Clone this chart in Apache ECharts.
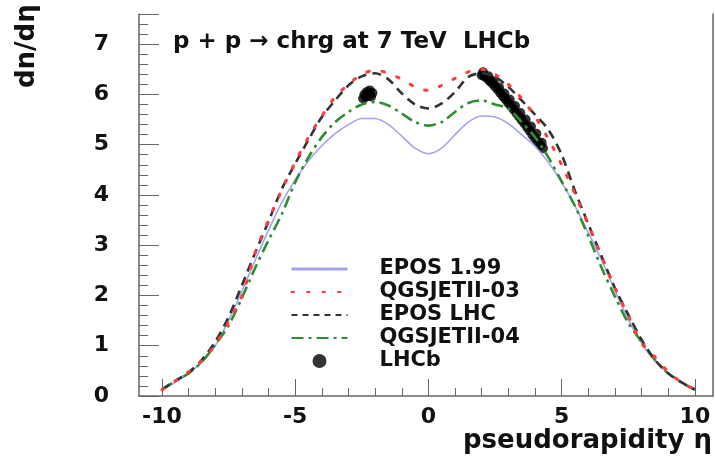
<!DOCTYPE html>
<html>
<head>
<meta charset="utf-8">
<script src="https://cdn.jsdelivr.net/npm/echarts@6/dist/echarts.min.js"></script>
<style>
  html, body { margin: 0; padding: 0; background: #fff; }
  #chart { width: 715px; height: 465px; }
</style>
</head>
<body>
<div id="chart"></div>
<script>
// pseudorapidity grid for the model curves
const etaGrid = [-10, -9.5, -9, -8.5, -8, -7.5, -7, -6.5, -6, -5.5, -5, -4.5, -4, -3.5, -3, -2.5, -2, -1.5, -1, -0.5,
  0, 0.5, 1, 1.5, 2, 2.5, 3, 3.5, 4, 4.5, 5, 5.5, 6, 6.5, 7, 7.5, 8, 8.5, 9, 9.5, 10];

const epos199 = [0.13, 0.27, 0.45, 0.68, 1.0, 1.5, 2.08, 2.7, 3.3, 3.85, 4.3, 4.68, 4.98, 5.22, 5.4, 5.52, 5.52, 5.4, 5.17, 4.93,
  4.82, 4.93, 5.2, 5.45, 5.57, 5.55, 5.42, 5.2, 4.97, 4.65, 4.25, 3.78, 3.25, 2.7, 2.1, 1.52, 1.05, 0.7, 0.45, 0.28, 0.14];

const qgsjet03 = [0.12, 0.3, 0.48, 0.7, 1.02, 1.47, 1.98, 2.85, 3.5, 4.1, 4.65, 5.15, 5.57, 5.95, 6.2, 6.4, 6.48, 6.42, 6.3, 6.15,
  6.08, 6.18, 6.32, 6.45, 6.5, 6.4, 6.2, 5.92, 5.56, 5.12, 4.6, 4.02, 3.4, 2.77, 2.15, 1.6, 1.05, 0.78, 0.48, 0.27, 0.13];

const eposLhc = [0.13, 0.3, 0.47, 0.72, 1.08, 1.57, 2.2, 2.85, 3.47, 4.12, 4.62, 5.1, 5.55, 5.88, 6.18, 6.36, 6.42, 6.3, 6.02, 5.8,
  5.72, 5.82, 6.05, 6.35, 6.42, 6.35, 6.15, 5.88, 5.6, 5.3, 4.8, 4.08, 3.42, 2.78, 2.15, 1.62, 1.12, 0.72, 0.45, 0.27, 0.13];

const qgsjet04 = [0.12, 0.3, 0.45, 0.68, 1.02, 1.4, 1.95, 2.55, 3.1, 3.62, 4.25, 4.75, 5.15, 5.45, 5.65, 5.8, 5.85, 5.78, 5.62, 5.45,
  5.38, 5.45, 5.65, 5.83, 5.88, 5.8, 5.72, 5.45, 5.15, 4.75, 4.27, 3.78, 3.18, 2.55, 1.98, 1.45, 1.08, 0.72, 0.45, 0.27, 0.12];

// LHCb measurements
const lhcbEta = [-2.45, -2.4, -2.35, -2.3, -2.25, -2.2, -2.15, -2.1,
  2.0, 2.1, 2.2, 2.3, 2.4, 2.5, 2.6, 2.7, 2.8, 2.9, 3.0, 3.1, 3.2, 3.3, 3.4, 3.5, 3.6, 3.7, 3.8, 3.9, 4.0, 4.1, 4.2, 4.3,
  2.05, 2.25, 2.45, 2.65, 2.85, 3.05, 3.25, 3.45, 3.65, 3.85, 4.05, 4.25];
const lhcbVal = [5.92, 6.0, 5.95, 6.05, 5.98, 6.08, 5.96, 6.03,
  6.38, 6.36, 6.32, 6.27, 6.22, 6.16, 6.1, 6.03, 5.96, 5.9, 5.83, 5.77, 5.7, 5.63, 5.56, 5.49, 5.42, 5.35, 5.28, 5.2, 5.13, 5.06, 4.99, 4.93,
  6.44, 6.36, 6.26, 6.14, 6.02, 5.9, 5.77, 5.63, 5.5, 5.36, 5.22, 5.04];

const xMajorTicks = [-10, -5, 0, 5, 10];
const xMinorTicks = [-10, -9, -8, -7, -6, -5, -4, -3, -2, -1, 0, 1, 2, 3, 4, 5, 6, 7, 8, 9, 10];

const font = 'DejaVu Sans';
const axisGray = '#666';

function pairs(xs, ys) {
  return xs.map((x, i) => [x, ys[i]]);
}

const chart = echarts.init(document.getElementById('chart'));

const xMin = -10.86, xMax = 10.68;

// legend entries for lines: hide the marker, keep the line
const noMarker = { color: 'rgba(0,0,0,0)', borderWidth: 0, opacity: 0 };

const option = {
  animation: false,
  title: {
    text: 'p + p \u2192 chrg at 7 TeV  LHCb',
    left: 173,
    top: 31,
    padding: 0,
    textStyle: { fontFamily: font, fontWeight: 'bold', fontSize: 23, color: '#111' }
  },
  grid: { left: 139, right: 2, top: 14, bottom: 69 },
  legend: {
    orient: 'vertical',
    left: 285,
    top: 253,
    itemWidth: 56,
    itemHeight: 14,
    itemGap: 1,
    selectedMode: false,
    textStyle: { fontFamily: font, fontWeight: 'bold', fontSize: 21, color: '#111', lineHeight: 22, padding: [0, 0, 0, 27] },
    data: [
      { name: 'EPOS 1.99', itemStyle: noMarker, lineStyle: { width: 3 } },
      { name: 'QGSJETII-03', itemStyle: noMarker },
      { name: 'EPOS LHC', itemStyle: noMarker, lineStyle: { type: [6, 5] } },
      { name: 'QGSJETII-04', itemStyle: noMarker },
      { name: 'LHCb', itemStyle: { color: '#000' } }
    ]
  },
  xAxis: [
    {
      type: 'value', min: xMin, max: xMax,
      axisLine: { show: true, onZero: false, lineStyle: { color: axisGray, width: 1.5 } },
      axisTick: { show: true, inside: true, length: 17, customValues: xMajorTicks, lineStyle: { color: axisGray } },
      axisLabel: { customValues: xMajorTicks, margin: 10, fontFamily: font, fontWeight: 'bold', fontSize: 22, color: '#111' },
      splitLine: { show: false }
    },
    {
      type: 'value', min: xMin, max: xMax, position: 'bottom',
      axisLine: { show: false, onZero: false },
      axisTick: { show: true, inside: true, length: 8, customValues: xMinorTicks, lineStyle: { color: axisGray } },
      axisLabel: { show: false },
      splitLine: { show: false }
    }
  ],
  yAxis: [
    {
      type: 'value', min: 0, max: 7.6, interval: 1,
      axisLine: { show: true, onZero: false, lineStyle: { color: axisGray, width: 1.5 } },
      axisTick: { show: true, inside: true, length: 20, lineStyle: { color: axisGray } },
      axisLabel: {
        margin: 30, fontFamily: font, fontWeight: 'bold', fontSize: 22, color: '#111',
        formatter: v => (v > 7.01 ? '' : String(v))
      },
      splitLine: { show: false }
    },
    {
      type: 'value', min: 0, max: 7.6, interval: 0.2, position: 'left',
      axisLine: { show: false, onZero: false },
      axisTick: { show: true, inside: true, length: 9, lineStyle: { color: axisGray } },
      axisLabel: { show: false },
      splitLine: { show: false }
    },
    {
      type: 'value', min: 0, max: 7.6, position: 'right',
      axisLine: { show: true, onZero: false, lineStyle: { color: axisGray, width: 1.5 } },
      axisTick: { show: false },
      axisLabel: { show: false },
      splitLine: { show: false }
    }
  ],
  graphic: [
    {
      type: 'text', x: 27, y: 88, rotation: Math.PI / 2,
      style: { text: 'dn/d\u03b7', fontFamily: font, fontWeight: 'bold', fontSize: 26, fill: '#111', align: 'left', verticalAlign: 'middle' }
    },
    {
      type: 'text', x: 712, y: 441,
      style: { text: 'pseudorapidity \u03b7', fontFamily: font, fontWeight: 'bold', fontSize: 26, fill: '#111', align: 'right', verticalAlign: 'middle' }
    }
  ],
  series: [
    {
      name: 'EPOS 1.99', type: 'line', smooth: 0.3, symbol: 'none',
      lineStyle: { color: '#a3a3f2', width: 1.6 }, itemStyle: { color: '#a3a3f2' },
      data: pairs(etaGrid, epos199)
    },
    {
      name: 'QGSJETII-04', type: 'line', smooth: 0.3, symbol: 'none',
      lineStyle: { color: '#2e8f2e', width: 2.6, type: [12, 5, 3, 5] }, itemStyle: { color: '#2e8f2e' },
      data: pairs(etaGrid, qgsjet04)
    },
    {
      name: 'EPOS LHC', type: 'line', smooth: 0.3, symbol: 'none',
      lineStyle: { color: '#333', width: 2.6, type: [9, 6] }, itemStyle: { color: '#333' },
      data: pairs(etaGrid, eposLhc)
    },
    {
      name: 'QGSJETII-03', type: 'line', smooth: 0.3, symbol: 'none',
      lineStyle: { color: '#ff3b3b', width: 3, type: [2.5, 13], cap: 'round' }, itemStyle: { color: '#ff3b3b' },
      data: pairs(etaGrid, qgsjet03)
    },
    {
      name: 'LHCb', type: 'scatter', symbol: 'circle', symbolSize: 10,
      itemStyle: { color: '#000' },
      data: pairs(lhcbEta, lhcbVal)
    }
  ]
};

chart.setOption(option);
</script>
</body>
</html>
